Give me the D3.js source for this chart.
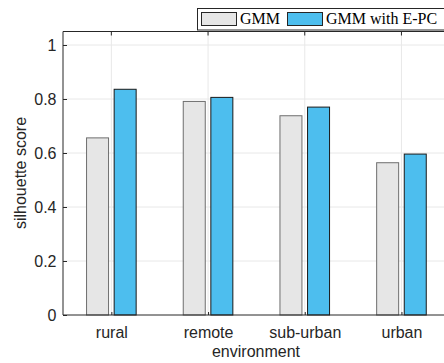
<!DOCTYPE html>
<html>
<head>
<meta charset="utf-8">
<script src="https://cdn.jsdelivr.net/npm/d3@7"></script>
<style>
  body { margin: 0; background: #fff; }
  svg { display: block; }
</style>
</head>
<body>
<script>
const categories = ["rural", "remote", "sub-urban", "urban"];
const seriesNames = ["GMM", "GMM with E-PC"];
const gmm = [0.656, 0.791, 0.738, 0.564];
const gmmEpc = [0.836, 0.806, 0.770, 0.596];
const yTicks = [0, 0.2, 0.4, 0.6, 0.8, 1];

const width = 444, height = 363;
const svg = d3.select("body").append("svg")
  .attr("width", width)
  .attr("height", height);

// plot area (right edge runs past the window, like the original)
const plotLeft = 63, plotBottom = 315;
const step = 96.7;
const x = d3.scaleLinear().domain([0.5, 4.5]).range([plotLeft, plotLeft + 4 * step]);
const y = d3.scaleLinear().domain([0, 1]).range([plotBottom, plotBottom - 270]);
const yTop = 1.05;

const fills = ["#e6e6e6", "#4dbeee"];
const strokes = ["#6e6e6e", "#1a1a1a"];
const barW = 22, offset = 13.8;
const sans = "Liberation Sans, Arial, Helvetica, sans-serif";
const fontSize = 16;

// grid
const grid = svg.append("g");
grid.selectAll("line.h")
  .data(yTicks.filter(d => d > 0))
  .enter().append("line")
  .attr("x1", plotLeft).attr("x2", width)
  .attr("y1", d => y(d)).attr("y2", d => y(d))
  .attr("stroke", "#e8e8e8").attr("stroke-width", 1);
grid.selectAll("line.v")
  .data(categories)
  .enter().append("line")
  .attr("x1", (d, i) => x(i + 1)).attr("x2", (d, i) => x(i + 1))
  .attr("y1", y(yTop)).attr("y2", plotBottom)
  .attr("stroke", "#e8e8e8").attr("stroke-width", 1);

// bars
const rows = categories.map((c, i) => ({ c, i, vals: [gmm[i], gmmEpc[i]] }));
rows.forEach(r => {
  r.vals.forEach((v, s) => {
    const cx = x(r.i + 1) + (s === 0 ? -offset : offset);
    svg.append("rect")
      .attr("x", cx - barW / 2)
      .attr("y", y(v))
      .attr("width", barW)
      .attr("height", y(0) - y(v))
      .attr("fill", fills[s])
      .attr("stroke", strokes[s])
      .attr("stroke-width", 1);
  });
});

// axes
const yAxis = d3.axisLeft(y).tickValues(yTicks).tickSizeInner(-4).tickSizeOuter(0)
  .tickPadding(6.5).tickFormat(d => d === 0 ? "0" : d === 1 ? "1" : d3.format(".1f")(d));
const gy = svg.append("g").attr("transform", `translate(${plotLeft},0)`).call(yAxis);
gy.select(".domain").remove();
gy.selectAll("text").attr("font-family", sans)
  .attr("font-size", fontSize).attr("fill", "#262626");
gy.selectAll("line").attr("stroke", "#262626");

svg.append("line")
  .attr("x1", plotLeft).attr("x2", plotLeft)
  .attr("y1", y(yTop)).attr("y2", plotBottom)
  .attr("stroke", "#262626").attr("stroke-width", 1);

const xAxis = d3.axisBottom(x).tickValues([1, 2, 3, 4]).tickSizeInner(-3).tickSizeOuter(0)
  .tickPadding(11.5).tickFormat(d => categories[d - 1]);
const gx = svg.append("g").attr("transform", `translate(0,${plotBottom})`).call(xAxis);
gx.select(".domain").remove();
gx.selectAll("text").attr("font-family", sans)
  .attr("font-size", fontSize).attr("fill", "#262626");
gx.selectAll("line").attr("stroke", "#262626");
svg.append("line")
  .attr("x1", plotLeft).attr("x2", width)
  .attr("y1", plotBottom).attr("y2", plotBottom)
  .attr("stroke", "#262626").attr("stroke-width", 1);

// top edge with inward ticks
svg.append("line")
  .attr("x1", plotLeft).attr("x2", width)
  .attr("y1", y(yTop)).attr("y2", y(yTop))
  .attr("stroke", "#262626").attr("stroke-width", 1);
svg.selectAll("line.topTick")
  .data([1, 2, 3, 4])
  .enter().append("line")
  .attr("x1", d => x(d)).attr("x2", d => x(d))
  .attr("y1", y(yTop)).attr("y2", y(yTop) + 4)
  .attr("stroke", "#262626");

// axis labels
svg.append("text")
  .attr("x", 256).attr("y", 357)
  .attr("text-anchor", "middle")
  .attr("font-family", sans)
  .attr("font-size", fontSize).attr("fill", "#262626")
  .text("environment");
svg.append("text")
  .attr("transform", "translate(26,173) rotate(-90)")
  .attr("text-anchor", "middle")
  .attr("font-family", sans)
  .attr("font-size", fontSize).attr("fill", "#262626")
  .text("silhouette score");

// legend
const lg = svg.append("g");
lg.append("rect")
  .attr("x", 197.5).attr("y", 8.5).attr("width", 260).attr("height", 21.5)
  .attr("fill", "#fff").attr("stroke", "#262626").attr("stroke-width", 1);
const legendX = [201, 287];
seriesNames.forEach((name, s) => {
  lg.append("rect")
    .attr("x", legendX[s] + 0.5).attr("y", 12.5)
    .attr("width", 35).attr("height", 13)
    .attr("fill", fills[s]).attr("stroke", "#262626");
  lg.append("text")
    .attr("x", legendX[s] + 39).attr("y", 24)
    .attr("font-family", "Liberation Serif, Times New Roman, serif")
    .attr("font-size", 16).attr("fill", "#000")
    .text(name);
});
</script>
</body>
</html>
